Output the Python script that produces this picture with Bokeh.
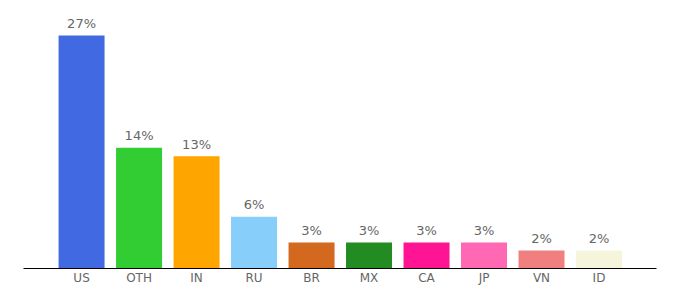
from bokeh.plotting import figure
from bokeh.models import ColumnDataSource, FixedTicker, Range1d
from bokeh.core.properties import value
from bokeh.embed import file_html
from bokeh.resources import INLINE

categories = ["US", "OTH", "IN", "RU", "BR", "MX", "CA", "JP", "VN", "ID"]
values = [27.0, 14.0, 13.0, 6.0, 3.0, 3.0, 3.0, 3.0, 2.1, 2.1]
labels = ["27%", "14%", "13%", "6%", "3%", "3%", "3%", "3%", "2%", "2%"]
colors = ["#4169E1", "#32CD32", "#FFA500", "#87CEFA", "#D2691E",
          "#228B22", "#FF1493", "#FF69B4", "#F08080", "#F5F5DC"]

xs = list(range(len(categories)))
src = ColumnDataSource(dict(x=xs, top=values, color=colors, label=labels))

p = figure(width=680, height=300, output_backend="svg", toolbar_location=None,
           x_range=Range1d(-1.01, 10.0), y_range=Range1d(0, 29.9),
           y_axis_location=None, min_border_left=23, min_border_right=24,
           min_border_top=10, min_border_bottom=32)
p.outline_line_color = None
p.grid.grid_line_color = None
p.background_fill_color = "white"
p.border_fill_color = "white"

p.vbar(x="x", top="top", width=0.8, bottom=0, color="color", line_color=None, source=src)
p.text(x="x", y="top", text="label", source=src, text_align="center",
       text_baseline="middle", y_offset=-12, text_font=value("DejaVu Sans"),
       text_font_size="13px", text_color="#666666")

ax = p.xaxis[0]
ax.ticker = FixedTicker(ticks=xs)
ax.major_label_overrides = {i: c for i, c in zip(xs, categories)}
ax.major_tick_line_color = None
ax.minor_tick_line_color = None
ax.axis_line_color = "black"
ax.axis_line_width = 1
ax.major_label_standoff = -4
ax.major_label_text_font = "DejaVu Sans"
ax.major_label_text_font_size = "12px"
ax.major_label_text_color = "#666666"

open("out.html", "w").write(file_html(p, INLINE))
